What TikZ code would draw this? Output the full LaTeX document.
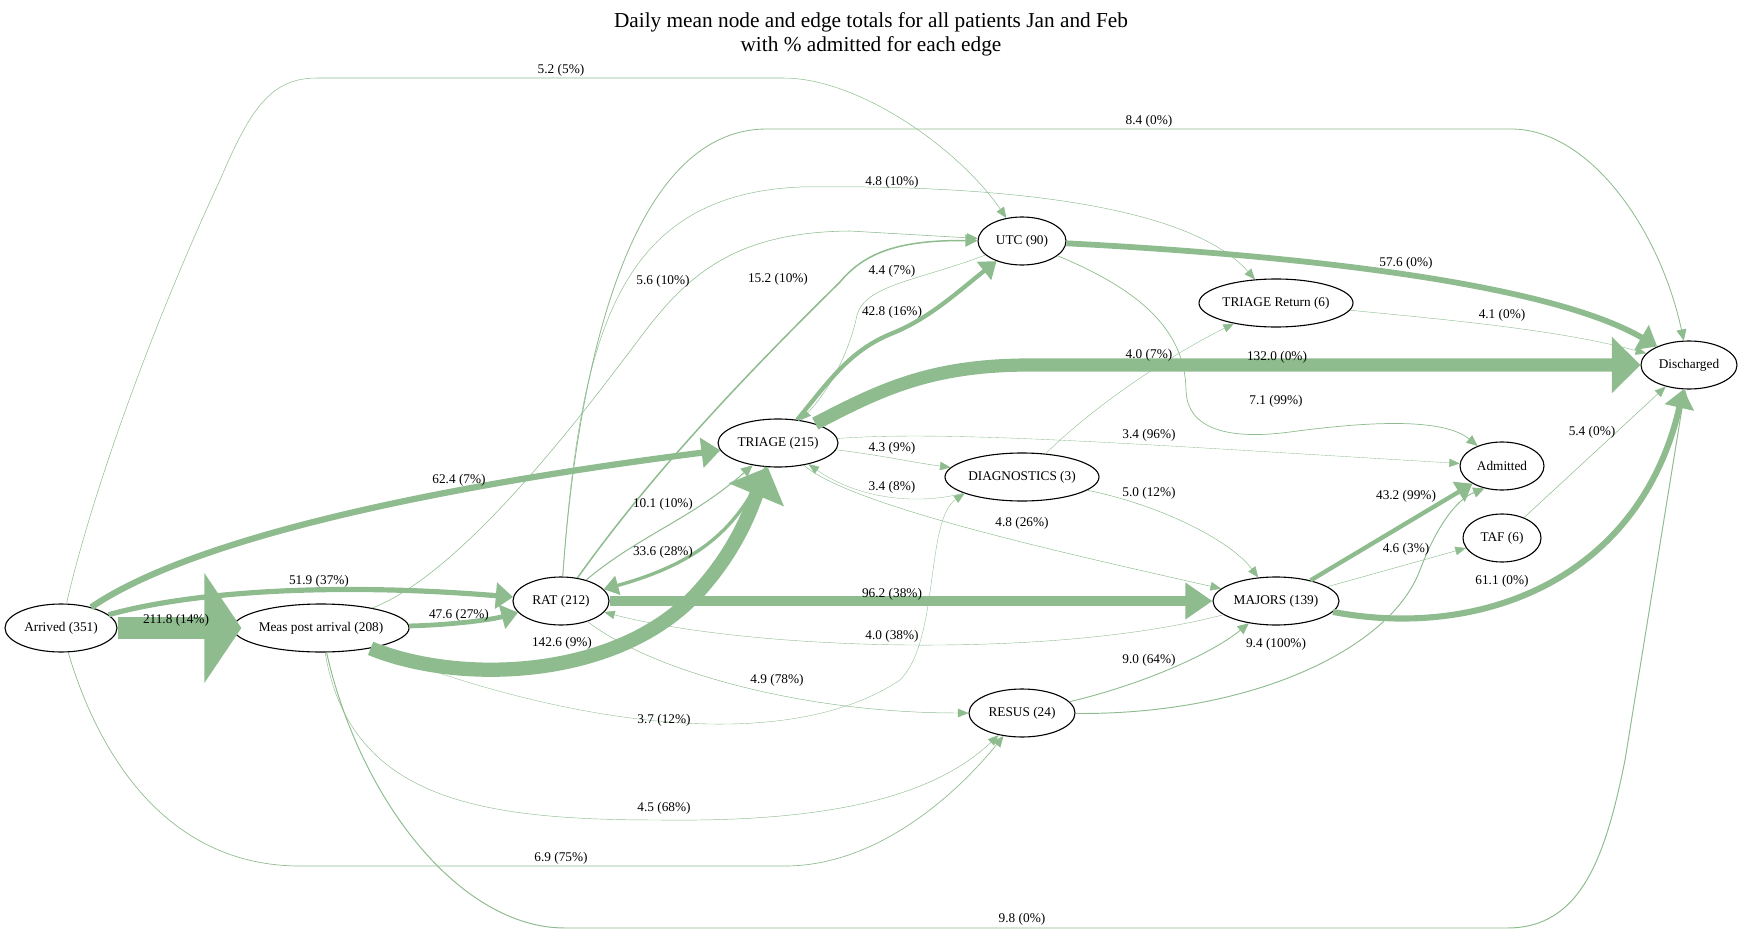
\documentclass[tikz,border=0pt]{standalone}
\usepackage{fontspec}
\setmainfont{Liberation Serif}
\usepackage{tikz}
\usetikzlibrary{arrows.meta,shapes.geometric}
\definecolor{sage}{HTML}{8FBC8F}
\tikzset{
  box/.style={ellipse, draw=black, line width=1.1pt, inner sep=0pt, minimum height=48pt, minimum width=#1, font=\fontsize{13.3}{16}\selectfont},
  flow/.style={draw=sage, line width=#1, -{Triangle[length=10pt 1.4, width=7pt 3.6]}},
  lbl/.style={inner sep=0pt, font=\fontsize{13.3}{16}\selectfont},
  heading/.style={align=center, inner sep=0pt, font=\fontsize{21.3}{24}\selectfont}
}
\begin{document}
\begin{tikzpicture}[x=1pt, y=-1pt]
  \useasboundingbox (0,0) rectangle (1742,933);

  \node[heading] (ttl) at (871,34) {Daily mean node and edge totals for all patients Jan and Feb\\with \% admitted for each edge};

  % states
  \node[box=112pt] (arr) at (61,628) {Arrived (351)};
  \node[box=168pt] (meas) at (321,628) {Meas post arrival (208)};
  \node[box=96pt] (rat) at (561,601) {RAT (212)};
  \node[box=120pt] (tri) at (778,443) {TRIAGE (215)};
  \node[box=88pt] (utc) at (1022,241) {UTC (90)};
  \node[box=154pt] (tret) at (1276,303) {TRIAGE Return (6)};
  \node[box=154pt] (diag) at (1022,477) {DIAGNOSTICS (3)};
  \node[box=96pt] (dis) at (1689,365) {Discharged};
  \node[box=84pt] (adm) at (1502,466) {Admitted};
  \node[box=78pt] (taf) at (1502,538) {TAF (6)};
  \node[box=126pt] (maj) at (1276,601) {MAJORS (139)};
  \node[box=106pt] (res) at (1022,713) {RESUS (24)};

  % thin flows
  \draw[flow=0.34pt] (tri) .. controls (950,430) and (1150,445) .. (adm);
  \draw[flow=0.34pt] (diag) .. controls (920,505) and (860,500) .. (tri);
  \draw[flow=0.37pt] (meas) .. controls (550,720) and (780,760) .. (900,680) .. controls (940,640) and (925,520) .. (diag.-164);
  \draw[flow=0.40pt] (maj) .. controls (1050,660) and (750,650) .. (rat);
  \draw[flow=0.40pt] (diag) .. controls (1100,400) and (1180,350) .. (tret);
  \draw[flow=0.41pt] (tret) .. controls (1450,320) and (1560,330) .. (dis);
  \draw[flow=0.43pt] (tri) .. controls (880,455) and (910,462) .. (diag);
  \draw[flow=0.44pt] (utc) .. controls (920,280) and (865,285) .. (857,315) .. controls (850,350) and (830,390) .. (tri);
  \draw[flow=0.45pt] (meas) .. controls (350,800) and (480,820) .. (660,820) .. controls (820,822) and (930,800) .. (res);
  \draw[flow=0.46pt] (maj) -- (taf);
  \draw[flow=0.48pt] (rat) .. controls (580,330) and (620,195) .. (800,187) .. controls (950,185) and (1180,195) .. (tret);
  \draw[flow=0.48pt] (tri) .. controls (850,505) and (1050,550) .. (maj);
  \draw[flow=0.49pt] (rat) .. controls (650,670) and (800,713) .. (res);
  \draw[flow=0.50pt] (diag) .. controls (1160,505) and (1230,540) .. (maj);
  \draw[flow=0.52pt] (arr) .. controls (90,500) and (150,330) .. (220,180) .. controls (250,110) and (270,78) .. (317,78) -- (783,78) .. controls (860,78) and (960,150) .. (utc);
  \draw[flow=0.54pt] (taf) -- (dis);
  \draw[flow=0.56pt] (meas) .. controls (470,570) and (600,390) .. (640,338) .. controls (690,270) and (740,232) .. (850,231) -- (utc);
  \draw[flow=0.69pt] (arr) .. controls (100,760) and (170,866) .. (300,866) -- (785,866) .. controls (880,866) and (960,790) .. (res);
  \draw[flow=0.71pt] (utc) .. controls (1140,290) and (1185,330) .. (1186,390) .. controls (1187,430) and (1230,440) .. (1290,432) .. controls (1350,424) and (1440,415) .. (adm);
  \draw[flow=0.84pt] (rat) .. controls (575,400) and (620,129) .. (767,129) -- (1511,129) .. controls (1590,129) and (1660,230) .. (dis);
  \draw[flow=0.90pt] (res) .. controls (1140,685) and (1210,655) .. (maj);
  \draw[flow=0.94pt] (res) .. controls (1250,715) and (1390,650) .. (1420,570) .. controls (1435,530) and (1455,500) .. (adm.-128);
  \draw[flow=0.98pt] (meas) .. controls (360,800) and (460,928) .. (565,928) -- (1507,928) .. controls (1580,928) and (1605,860) .. (1625,760) -- (dis);
  \draw[flow=1.01pt] (rat) .. controls (640,535) and (690,520) .. (tri);
  \draw[flow=1.52pt] (rat) .. controls (640,490) and (720,400) .. (840,282) .. controls (865,252) and (900,240) .. (utc);

  % thick flows
  \draw[flow=3.36pt] (tri) .. controls (740,520) and (710,560) .. (rat);
  \draw[flow=4.28pt] (tri) .. controls (830,380) and (850,350) .. (893,333) .. controls (930,318) and (960,290) .. (utc);
  \draw[flow=4.32pt] (maj) -- (adm);
  \draw[flow=4.76pt] (meas) .. controls (450,625) and (490,620) .. (rat);
  \draw[flow=5.19pt] (arr) .. controls (190,592) and (330,582) .. (rat);
  \draw[flow=5.76pt] (utc) .. controls (1350,258) and (1560,290) .. (dis);
  \draw[flow=6.11pt] (maj) .. controls (1480,640) and (1640,580) .. (dis);
  \draw[flow=6.24pt] (arr) .. controls (160,560) and (330,500) .. (tri);
  \draw[flow=9.62pt, -{Triangle[length=27pt, width=35pt]}] (rat) -- (maj);
  \draw[flow=13.2pt] (tri) .. controls (880,390) and (930,365) .. (1030,365) -- (dis);
  \draw[flow=14.26pt] (meas) .. controls (460,685) and (620,680) .. (700,590) .. controls (740,545) and (752,505) .. (tri);
  \draw[flow=21.18pt, -{Triangle[length=37pt, width=108pt]}] (arr) -- ([xshift=9pt]meas.west);

  % edge labels
  \node[lbl] (l-arr-meas) at (176,620) {211.8 (14\%)};
  \node[lbl] (l-arr-rat) at (319,581) {51.9 (37\%)};
  \node[lbl] (l-arr-tri) at (459,480) {62.4 (7\%)};
  \node[lbl] (l-meas-rat) at (459,615) {47.6 (27\%)};
  \node[lbl] (l-meas-tri) at (562,643) {142.6 (9\%)};
  \node[lbl] (l-meas-res) at (664,808) {4.5 (68\%)};
  \node[lbl] (l-meas-dis) at (1022,919) {9.8 (0\%)};
  \node[lbl] (l-arr-res) at (561,858) {6.9 (75\%)};
  \node[lbl] (l-arr-utc) at (561,70) {5.2 (5\%)};
  \node[lbl] (l-rat-dis) at (1149,121) {8.4 (0\%)};
  \node[lbl] (l-rat-tret) at (892,182) {4.8 (10\%)};
  \node[lbl] (l-meas-utc) at (663,281) {5.6 (10\%)};
  \node[lbl] (l-rat-utc) at (778,279) {15.2 (10\%)};
  \node[lbl] (l-rat-tri) at (663,504) {10.1 (10\%)};
  \node[lbl] (l-tri-rat) at (663,552) {33.6 (28\%)};
  \node[lbl] (l-tri-utc) at (892,312) {42.8 (16\%)};
  \node[lbl] (l-utc-tri) at (892,271) {4.4 (7\%)};
  \node[lbl] (l-diag-tret) at (1149,355) {4.0 (7\%)};
  \node[lbl] (l-utc-adm) at (1276,401) {7.1 (99\%)};
  \node[lbl] (l-tri-adm) at (1149,435) {3.4 (96\%)};
  \node[lbl] (l-tri-diag) at (892,448) {4.3 (9\%)};
  \node[lbl] (l-diag-tri) at (892,487) {3.4 (8\%)};
  \node[lbl] (l-tri-maj) at (1022,523) {4.8 (26\%)};
  \node[lbl] (l-diag-maj) at (1149,493) {5.0 (12\%)};
  \node[lbl] (l-meas-diag) at (664,720) {3.7 (12\%)};
  \node[lbl] (l-rat-res) at (777,680) {4.9 (78\%)};
  \node[lbl] (l-maj-rat) at (892,636) {4.0 (38\%)};
  \node[lbl] (l-rat-maj) at (892,594) {96.2 (38\%)};
  \node[lbl] (l-res-maj) at (1149,660) {9.0 (64\%)};
  \node[lbl] (l-res-adm) at (1276,644) {9.4 (100\%)};
  \node[lbl] (l-maj-adm) at (1406,496) {43.2 (99\%)};
  \node[lbl] (l-maj-taf) at (1406,549) {4.6 (3\%)};
  \node[lbl] (l-maj-dis) at (1502,581) {61.1 (0\%)};
  \node[lbl] (l-taf-dis) at (1592,432) {5.4 (0\%)};
  \node[lbl] (l-tret-dis) at (1502,315) {4.1 (0\%)};
  \node[lbl] (l-utc-dis) at (1406,263) {57.6 (0\%)};
  \node[lbl] (l-tri-dis) at (1277,357) {132.0 (0\%)};
\end{tikzpicture}
\end{document}
